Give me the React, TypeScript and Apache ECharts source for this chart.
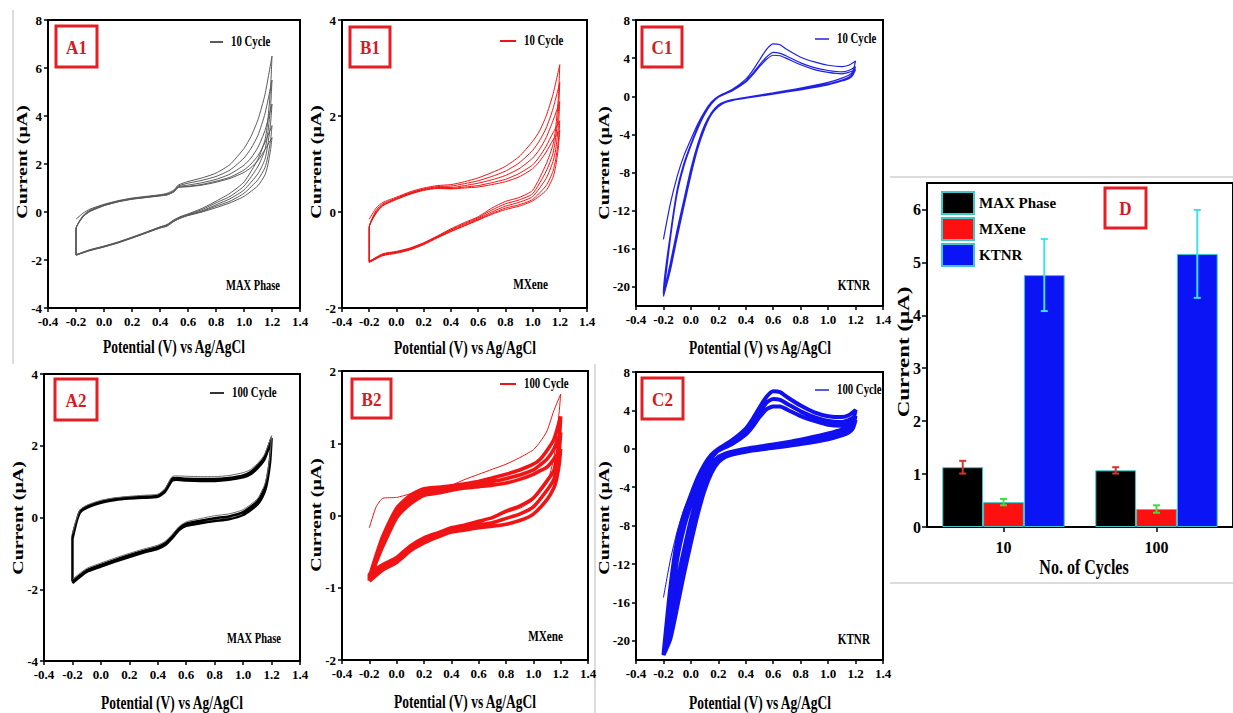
import React, { useEffect, useRef } from "react";
import * as echarts from "echarts";

// ---------------- data ----------------
// MAX Phase (A) potential grids
const A_E_FWD = [-0.2, -0.15, -0.1, 0, 0.1, 0.2, 0.3, 0.4, 0.45, 0.5, 0.53, 0.6, 0.7, 0.8, 0.9, 1.0, 1.05, 1.1, 1.15, 1.2];
const A_E_REV = [1.2, 1.19, 1.17, 1.15, 1.1, 1.0, 0.9, 0.8, 0.7, 0.6, 0.55, 0.5, 0.45, 0.4, 0.3, 0.2, 0.1, 0, -0.1, -0.2];

const A1_FWD = [
  [-0.3, -0.05, 0.12, 0.32, 0.47, 0.58, 0.65, 0.72, 0.78, 0.92, 1.12, 1.27, 1.42, 1.62, 1.98, 2.65, 3.15, 3.85, 4.9, 6.5],
  [-0.7, -0.15, 0.08, 0.3, 0.45, 0.56, 0.63, 0.7, 0.75, 0.88, 1.08, 1.2, 1.32, 1.48, 1.75, 2.25, 2.65, 3.2, 4.1, 5.5],
  [-0.7, -0.18, 0.05, 0.28, 0.44, 0.55, 0.62, 0.69, 0.73, 0.86, 1.05, 1.12, 1.22, 1.36, 1.58, 1.95, 2.25, 2.7, 3.4, 4.5],
  [-0.7, -0.2, 0.03, 0.27, 0.43, 0.54, 0.61, 0.68, 0.72, 0.85, 1.03, 1.07, 1.15, 1.28, 1.45, 1.75, 2.0, 2.35, 2.9, 3.6],
  [-0.7, -0.2, 0.02, 0.26, 0.42, 0.53, 0.6, 0.67, 0.71, 0.84, 1.02, 1.05, 1.12, 1.24, 1.4, 1.65, 1.85, 2.15, 2.6, 3.1],
];
const A1_REV = [
  [6.5, 5.2, 3.8, 3.0, 2.2, 1.25, 0.78, 0.45, 0.15, -0.08, -0.18, -0.32, -0.52, -0.62, -0.84, -1.05, -1.25, -1.42, -1.57, -1.78],
  [5.5, 4.4, 3.3, 2.6, 1.9, 1.08, 0.65, 0.38, 0.1, -0.1, -0.2, -0.34, -0.54, -0.63, -0.85, -1.06, -1.26, -1.43, -1.58, -1.78],
  [4.5, 3.7, 2.8, 2.2, 1.6, 0.92, 0.55, 0.3, 0.05, -0.12, -0.22, -0.36, -0.56, -0.64, -0.86, -1.07, -1.27, -1.44, -1.59, -1.8],
  [3.6, 3.0, 2.3, 1.85, 1.35, 0.78, 0.45, 0.24, 0.02, -0.14, -0.24, -0.38, -0.58, -0.66, -0.87, -1.08, -1.28, -1.45, -1.6, -1.8],
  [3.1, 2.6, 1.95, 1.55, 1.1, 0.65, 0.38, 0.18, 0.0, -0.15, -0.25, -0.39, -0.59, -0.67, -0.88, -1.09, -1.29, -1.46, -1.61, -1.8],
];
const A2_FWD = [
  [-0.45, 0.2, 0.34, 0.48, 0.55, 0.59, 0.62, 0.65, 0.8, 1.14, 1.16, 1.15, 1.14, 1.14, 1.17, 1.25, 1.33, 1.5, 1.75, 2.28],
  [-0.6, 0.15, 0.3, 0.44, 0.52, 0.56, 0.58, 0.61, 0.75, 1.08, 1.1, 1.08, 1.07, 1.07, 1.1, 1.17, 1.26, 1.43, 1.68, 2.22],
  [-0.6, 0.12, 0.27, 0.41, 0.49, 0.53, 0.55, 0.58, 0.71, 1.03, 1.05, 1.03, 1.02, 1.02, 1.05, 1.12, 1.2, 1.37, 1.62, 2.18],
];
const A2_REV = [
  [2.28, 1.75, 1.2, 0.9, 0.52, 0.22, 0.1, 0.05, -0.03, -0.12, -0.25, -0.48, -0.67, -0.77, -0.88, -1.0, -1.13, -1.27, -1.42, -1.72],
  [2.22, 1.65, 1.1, 0.8, 0.45, 0.15, 0.03, -0.02, -0.09, -0.17, -0.3, -0.53, -0.72, -0.82, -0.93, -1.05, -1.18, -1.32, -1.47, -1.78],
  [2.18, 1.55, 1.0, 0.7, 0.36, 0.07, -0.05, -0.1, -0.16, -0.23, -0.35, -0.58, -0.77, -0.87, -0.98, -1.1, -1.23, -1.37, -1.52, -1.83],
];

// MXene (B) potential grids
const B_E_FWD = [-0.2, -0.15, -0.1, 0, 0.1, 0.2, 0.3, 0.4, 0.5, 0.6, 0.7, 0.8, 0.9, 1.0, 1.05, 1.1, 1.15, 1.2];
const B_E_REV = [1.2, 1.19, 1.17, 1.15, 1.1, 1.0, 0.9, 0.8, 0.7, 0.6, 0.5, 0.4, 0.3, 0.2, 0.1, 0, -0.1, -0.2];

const B1_FWD = [
  [-0.15, 0.08, 0.2, 0.31, 0.42, 0.5, 0.55, 0.57, 0.63, 0.71, 0.82, 0.95, 1.15, 1.47, 1.68, 2.0, 2.45, 3.07],
  [-0.32, 0.03, 0.17, 0.29, 0.4, 0.48, 0.53, 0.54, 0.59, 0.65, 0.74, 0.85, 1.02, 1.28, 1.48, 1.75, 2.15, 2.7],
  [-0.32, 0.0, 0.15, 0.28, 0.39, 0.47, 0.51, 0.51, 0.55, 0.6, 0.67, 0.76, 0.9, 1.12, 1.3, 1.55, 1.9, 2.3],
  [-0.32, -0.02, 0.14, 0.27, 0.38, 0.46, 0.5, 0.49, 0.52, 0.55, 0.61, 0.68, 0.8, 0.98, 1.15, 1.37, 1.65, 1.9],
  [-0.32, -0.03, 0.13, 0.26, 0.37, 0.45, 0.49, 0.48, 0.5, 0.52, 0.57, 0.63, 0.73, 0.9, 1.05, 1.25, 1.5, 1.7],
];
const B1_REV = [
  [3.07, 2.4, 1.75, 1.4, 1.0, 0.45, 0.3, 0.22, 0.08, -0.1, -0.22, -0.35, -0.5, -0.64, -0.75, -0.82, -0.87, -1.03],
  [2.7, 2.1, 1.55, 1.22, 0.85, 0.38, 0.25, 0.17, 0.04, -0.12, -0.24, -0.37, -0.51, -0.65, -0.76, -0.83, -0.88, -1.03],
  [2.3, 1.8, 1.3, 1.05, 0.7, 0.32, 0.2, 0.12, 0.0, -0.14, -0.26, -0.38, -0.52, -0.66, -0.77, -0.84, -0.89, -1.04],
  [1.9, 1.5, 1.1, 0.85, 0.55, 0.26, 0.15, 0.08, -0.03, -0.16, -0.28, -0.4, -0.53, -0.67, -0.78, -0.85, -0.9, -1.05],
  [1.7, 1.35, 0.95, 0.72, 0.45, 0.23, 0.12, 0.05, -0.05, -0.17, -0.29, -0.41, -0.54, -0.68, -0.79, -0.86, -0.91, -1.05],
];
const B2_FWD = [
  [-0.17, 0.12, 0.24, 0.25, 0.3, 0.34, 0.38, 0.42, 0.5, 0.57, 0.64, 0.71, 0.8, 0.91, 1.02, 1.17, 1.45, 1.68],
  [-0.85, -0.55, -0.28, 0.1, 0.28, 0.37, 0.39, 0.41, 0.44, 0.47, 0.52, 0.57, 0.63, 0.71, 0.78, 0.9, 1.05, 1.37],
  [-0.88, -0.6, -0.35, 0.03, 0.22, 0.32, 0.35, 0.38, 0.41, 0.43, 0.47, 0.51, 0.56, 0.63, 0.7, 0.78, 0.92, 1.15],
  [-0.9, -0.65, -0.42, -0.03, 0.16, 0.28, 0.31, 0.35, 0.38, 0.4, 0.42, 0.45, 0.5, 0.57, 0.62, 0.67, 0.78, 0.92],
];
const B2_REV = [
  [1.68, 1.45, 1.1, 0.8, 0.45, 0.22, 0.1, 0.04, -0.03, -0.09, -0.14, -0.18, -0.24, -0.32, -0.43, -0.6, -0.7, -0.85],
  [1.37, 1.05, 0.8, 0.62, 0.48, 0.24, 0.13, 0.06, -0.03, -0.08, -0.13, -0.17, -0.24, -0.31, -0.42, -0.58, -0.68, -0.82],
  [1.15, 0.9, 0.65, 0.5, 0.35, 0.12, 0.02, -0.04, -0.1, -0.13, -0.17, -0.2, -0.27, -0.35, -0.46, -0.62, -0.72, -0.87],
  [0.92, 0.72, 0.5, 0.38, 0.22, 0.02, -0.07, -0.12, -0.15, -0.17, -0.2, -0.23, -0.3, -0.38, -0.49, -0.65, -0.75, -0.91],
];

// KTNR (C) potential grids
const C_E_FWD = [-0.2, -0.15, -0.1, -0.05, 0, 0.05, 0.1, 0.15, 0.2, 0.3, 0.4, 0.45, 0.5, 0.55, 0.6, 0.65, 0.7, 0.8, 0.9, 1.0, 1.1, 1.15, 1.2];
const C_E_REV = [1.2, 1.18, 1.15, 1.1, 1.0, 0.8, 0.6, 0.4, 0.3, 0.25, 0.2, 0.15, 0.1, 0.05, 0, -0.05, -0.1, -0.15, -0.2];

const C1_FWD = [
  [-15, -11.3, -8.4, -6.2, -4.5, -2.9, -1.6, -0.6, 0.0, 0.7, 1.8, 2.7, 3.8, 4.9, 5.5, 5.4, 4.9, 4.1, 3.6, 3.25, 3.1, 3.25, 3.7],
  [-20.5, -14.5, -9.8, -7.0, -5.0, -3.2, -1.8, -0.7, -0.05, 0.6, 1.6, 2.4, 3.3, 4.1, 4.6, 4.5, 4.2, 3.5, 3.0, 2.7, 2.55, 2.7, 3.1],
  [-21, -15, -10.2, -7.3, -5.2, -3.4, -1.9, -0.8, -0.1, 0.55, 1.5, 2.25, 3.1, 3.85, 4.3, 4.25, 3.95, 3.3, 2.8, 2.5, 2.35, 2.5, 2.8],
];
const C1_REV = [
  [3.7, 2.6, 2.2, 1.9, 1.45, 0.85, 0.35, -0.1, -0.35, -0.55, -0.9, -1.7, -3.0, -5.0, -7.6, -10.8, -14.0, -17.5, -20.8],
  [3.1, 2.4, 2.0, 1.7, 1.3, 0.75, 0.28, -0.15, -0.4, -0.6, -1.0, -1.8, -3.2, -5.3, -8.0, -11.2, -14.5, -18.0, -21.0],
  [2.8, 2.2, 1.85, 1.6, 1.2, 0.68, 0.22, -0.2, -0.45, -0.65, -1.1, -1.9, -3.4, -5.5, -8.3, -11.5, -14.8, -18.3, -21.0],
];
const C2_FWD = [
  [-15.5, -11.6, -8.6, -6.3, -4.6, -3.0, -1.7, -0.7, -0.1, 0.6, 1.6, 2.5, 3.6, 4.6, 5.2, 5.1, 4.6, 3.8, 3.3, 3.0, 2.9, 3.1, 3.6],
  [-21.5, -14.5, -9.5, -6.8, -4.8, -3.0, -1.6, -0.6, 0.0, 0.9, 2.1, 3.1, 4.3, 5.4, 6.0, 5.9, 5.4, 4.5, 3.8, 3.4, 3.3, 3.5, 4.05],
  [-21.5, -15.5, -10.5, -7.5, -5.3, -3.4, -1.9, -0.8, -0.1, 0.7, 1.8, 2.7, 3.8, 4.8, 5.2, 5.1, 4.7, 3.9, 3.3, 2.9, 2.8, 3.0, 3.4],
  [-21.5, -16.5, -11.5, -8.2, -5.8, -3.8, -2.2, -1.0, -0.2, 0.5, 1.5, 2.3, 3.3, 4.1, 4.4, 4.4, 4.1, 3.4, 2.9, 2.5, 2.4, 2.6, 3.0],
];
const C2_REV = [
  [3.6, 2.6, 2.2, 1.9, 1.45, 0.85, 0.35, -0.1, -0.35, -0.55, -0.9, -1.7, -3.0, -5.0, -7.6, -10.8, -14.0, -17.5, -21.0],
  [4.05, 2.8, 2.4, 2.0, 1.6, 0.95, 0.45, 0.0, -0.3, -0.5, -0.85, -1.6, -2.8, -4.8, -7.4, -10.5, -13.8, -17.5, -21.5],
  [3.4, 2.4, 2.0, 1.7, 1.25, 0.7, 0.25, -0.2, -0.45, -0.7, -1.1, -2.0, -3.5, -5.8, -8.6, -11.8, -15.2, -18.8, -21.5],
  [3.0, 2.1, 1.7, 1.4, 1.0, 0.5, 0.1, -0.3, -0.6, -0.85, -1.4, -2.5, -4.3, -6.8, -9.8, -13.0, -16.5, -19.8, -21.5],
];
const C_Y_TICKS = [-20, -16, -12, -8, -4, 0, 4, 8];

// Panel D (bars)
const CYCLE_CATEGORIES = ["10", "100"];
const MAX_PHASE = [1.13, 1.07];
const MAX_PHASE_ERR = [0.12, 0.06];
const MXENE = [0.47, 0.34];
const MXENE_ERR = [0.06, 0.07];
const KTNR = [4.76, 5.16];
const KTNR_ERR = [0.68, 0.83];
const D_Y_TICKS = [0, 1, 2, 3, 4, 5, 6];

// ---------------- helpers ----------------
const FONT = "'Liberation Serif', 'Times New Roman', serif";

function loops(eF: number[], eR: number[], fwd: number[][], rev: number[][], from: number, to: number) {
  const out: number[][] = [];
  for (let i = from; i < to; i++) {
    eF.forEach((e, j) => out.push([e, fwd[i][j]]));
    eR.forEach((e, j) => out.push([e, rev[i][j]]));
  }
  return out;
}

const fmtX = (v: number) => (Math.abs(v) < 1e-9 ? "0.0" : v.toFixed(1));

const axisLineStyle = { show: true, onZero: false, lineStyle: { color: "#000", width: 2 } };
const labelBase = { color: "#000", fontFamily: FONT, fontWeight: "bold" as const, fontSize: 13 };

function cvX(gi: number) {
  return {
    type: "value",
    gridIndex: gi,
    min: -0.4,
    max: 1.4,
    interval: 0.2,
    axisLine: axisLineStyle,
    axisTick: { show: true, length: 4, lineStyle: { color: "#000", width: 1.5 } },
    axisLabel: { ...labelBase, margin: 7, formatter: fmtX },
    splitLine: { show: false },
  };
}

function cvY(gi: number, min: number, max: number, interval: number | null, ticks?: number[]) {
  const ax: any = {
    type: "value",
    gridIndex: gi,
    min,
    max,
    axisLine: axisLineStyle,
    axisTick: { show: true, length: 4, lineStyle: { color: "#000", width: 1.5 } },
    axisLabel: { ...labelBase, margin: 6 },
    splitLine: { show: false },
  };
  if (interval != null) ax.interval = interval;
  if (ticks) {
    ax.axisLabel.customValues = ticks;
    ax.axisTick.customValues = ticks;
  }
  return ax;
}

function cvSeries(gi: number, data: number[][], color: string, width: number, z = 2) {
  return {
    type: "line",
    xAxisIndex: gi,
    yAxisIndex: gi,
    data,
    showSymbol: false,
    symbol: "none",
    smooth: 0.2,
    silent: true,
    z,
    lineStyle: { color, width },
  };
}

function txt(text: string, x: number, y: number, o: any = {}) {
  return {
    type: "text",
    x,
    y,
    rotation: o.rot || 0,
    scaleX: o.sx || 1,
    scaleY: o.sy || 1,
    silent: true,
    z: 100,
    style: {
      text,
      fill: o.color || "#000",
      fontSize: o.size || 12,
      fontWeight: "bold",
      fontFamily: FONT,
      align: o.align || "center",
      verticalAlign: "middle",
    },
  };
}

function tagBox(label: string, x: number, y: number, w: number, h: number) {
  return [
    {
      type: "rect",
      shape: { x, y, width: w, height: h },
      style: { fill: "none", stroke: "#e31e24", lineWidth: 3 },
      silent: true,
      z: 100,
    },
    txt(label, x + w / 2, y + h / 2 + 1, { size: 19, color: "#d71920", sx: 0.9 }),
  ];
}

function legendLine(x1: number, x2: number, y: number, color: string, label: string) {
  return [
    { type: "line", shape: { x1, y1: y, x2, y2: y }, style: { stroke: color, lineWidth: 2 }, silent: true, z: 100 },
    txt(label, x2 + 8, y, { size: 14, sx: 0.77, align: "left" }),
  ];
}

function errSeries(k: number, name: string, vals: number[], errs: number[], color: string) {
  return {
    type: "custom",
    name: name + " err",
    xAxisIndex: 6,
    yAxisIndex: 6,
    silent: true,
    z: 5,
    data: vals.map((v, i) => [i, v, errs[i]]),
    encode: { x: 0, y: 1 },
    renderItem: (params: any, api: any) => {
      const idx = api.value(0);
      const v = api.value(1);
      const e = api.value(2);
      const band = api.size([1, 0])[0];
      const w = (band * 0.8) / 3;
      const cx = api.coord([idx, v])[0] + (k - 1) * w;
      const yt = api.coord([idx, v + e])[1];
      const yb = api.coord([idx, v - e])[1];
      const st = { stroke: color, lineWidth: 2 };
      return {
        type: "group",
        children: [
          { type: "line", shape: { x1: cx, y1: yt, x2: cx, y2: yb }, style: st },
          { type: "line", shape: { x1: cx - 3.5, y1: yt, x2: cx + 3.5, y2: yt }, style: st },
          { type: "line", shape: { x1: cx - 3.5, y1: yb, x2: cx + 3.5, y2: yb }, style: st },
        ],
      };
    },
  };
}

function buildOption() {
  const gridBase = { show: true, borderColor: "#000", borderWidth: 2, backgroundColor: "transparent" };
  const grids = [
    { ...gridBase, left: 48, top: 20, width: 252, height: 288 }, // A1
    { ...gridBase, left: 342, top: 20, width: 245, height: 288 }, // B1
    { ...gridBase, left: 636, top: 20, width: 247, height: 286 }, // C1
    { ...gridBase, left: 44, top: 374, width: 256, height: 287 }, // A2
    { ...gridBase, left: 342, top: 371, width: 246, height: 289 }, // B2
    { ...gridBase, left: 636, top: 372, width: 247, height: 288 }, // C2
    { ...gridBase, left: 927, top: 183, width: 314, height: 344 }, // D
  ];

  const xAxes: any[] = [0, 1, 2, 3, 4, 5].map(cvX);
  xAxes.push({
    type: "category",
    gridIndex: 6,
    data: CYCLE_CATEGORIES,
    axisLine: axisLineStyle,
    axisTick: { show: true, alignWithLabel: true, length: 5, lineStyle: { color: "#000", width: 1.5 } },
    axisLabel: { ...labelBase, fontSize: 16, margin: 12 },
    splitLine: { show: false },
  });

  const yAxes: any[] = [
    cvY(0, -4, 8, 2),
    cvY(1, -2, 4, 2),
    cvY(2, -22, 8, null, C_Y_TICKS),
    cvY(3, -4, 4, 2),
    cvY(4, -2, 2, 1),
    cvY(5, -22, 8, null, C_Y_TICKS),
  ];
  const dy = cvY(6, 0, 6.5, null, D_Y_TICKS);
  dy.axisLabel.fontSize = 16;
  dy.axisTick.length = 5;
  yAxes.push(dy);

  const red = "#f01414";
  const blue = "#2020e6";

  const series: any[] = [
    cvSeries(0, loops(A_E_FWD, A_E_REV, A1_FWD, A1_REV, 0, A1_FWD.length), "#5a5a5a", 1),
    cvSeries(1, loops(B_E_FWD, B_E_REV, B1_FWD, B1_REV, 0, B1_FWD.length), red, 1),
    cvSeries(2, loops(C_E_FWD, C_E_REV, C1_FWD, C1_REV, 0, C1_FWD.length), blue, 1.2),
    cvSeries(3, loops(A_E_FWD, A_E_REV, A2_FWD, A2_REV, 0, 1), "#6a6a6a", 1, 3),
    cvSeries(3, loops(A_E_FWD, A_E_REV, A2_FWD, A2_REV, 1, A2_FWD.length), "#000", 2.5),
    cvSeries(4, loops(B_E_FWD, B_E_REV, B2_FWD, B2_REV, 0, 1), red, 1, 3),
    cvSeries(4, loops(B_E_FWD, B_E_REV, B2_FWD, B2_REV, 1, B2_FWD.length), red, 3.6),
    cvSeries(5, loops(C_E_FWD, C_E_REV, C2_FWD, C2_REV, 0, 1), "#1010f0", 1, 3),
    cvSeries(5, loops(C_E_FWD, C_E_REV, C2_FWD, C2_REV, 1, C2_FWD.length), "#1010f0", 4),
  ];

  const barBase = {
    type: "bar",
    xAxisIndex: 6,
    yAxisIndex: 6,
    barGap: "0%",
    barCategoryGap: "20%",
    silent: true,
  };
  series.push(
    { ...barBase, name: "MAX Phase", data: MAX_PHASE, itemStyle: { color: "#000", borderColor: "#3cc8c8", borderWidth: 1 } },
    { ...barBase, name: "MXene", data: MXENE, itemStyle: { color: "#ff1010", borderColor: "#3cc8c8", borderWidth: 1 } },
    { ...barBase, name: "KTNR", data: KTNR, itemStyle: { color: "#0a14f5", borderColor: "#3cc8c8", borderWidth: 1 } },
    errSeries(0, "MAX Phase", MAX_PHASE, MAX_PHASE_ERR, "#e0302a"),
    errSeries(1, "MXene", MXENE, MXENE_ERR, "#3ee03e"),
    errSeries(2, "KTNR", KTNR, KTNR_ERR, "#40e0f0")
  );

  const gray = "#d0d0d0";
  const elements: any[] = [
    // collage frame lines
    { type: "line", shape: { x1: 13, y1: 10, x2: 13, y2: 364 }, style: { stroke: gray, lineWidth: 1.5 }, silent: true },
    { type: "line", shape: { x1: 595, y1: 364, x2: 595, y2: 713 }, style: { stroke: gray, lineWidth: 1.5 }, silent: true },
    { type: "line", shape: { x1: 890, y1: 177, x2: 1233, y2: 177 }, style: { stroke: gray, lineWidth: 1.5 }, silent: true },
    { type: "line", shape: { x1: 890, y1: 583, x2: 1233, y2: 583 }, style: { stroke: gray, lineWidth: 1.5 }, silent: true },
    // panel tags
    ...tagBox("A1", 56, 26, 41, 41),
    ...tagBox("B1", 350, 27, 40, 40),
    ...tagBox("C1", 642, 27, 40, 40),
    ...tagBox("A2", 55, 379, 42, 41),
    ...tagBox("B2", 352, 379, 39, 39),
    ...tagBox("C2", 642, 378, 41, 41),
    ...tagBox("D", 1105, 188, 41, 40),
    // inline legends
    ...legendLine(210, 223, 42, "#5a5a5a", "10 Cycle"),
    ...legendLine(500, 516, 41, red, "10 Cycle"),
    ...legendLine(815, 829, 39, "#5a5ae6", "10 Cycle"),
    ...legendLine(210, 224, 393, "#333", "100 Cycle"),
    ...legendLine(500, 516, 384, red, "100 Cycle"),
    ...legendLine(815, 829, 390, "#5a5ae6", "100 Cycle"),
    // material labels
    txt("MAX Phase", 280, 285, { size: 14, sx: 0.75, align: "right" }),
    txt("MXene", 548, 285, { size: 14, sx: 0.8, align: "right" }),
    txt("KTNR", 870, 286, { size: 14, sx: 0.8, align: "right" }),
    txt("MAX Phase", 281, 638, { size: 14, sx: 0.75, align: "right" }),
    txt("MXene", 563, 637, { size: 14, sx: 0.8, align: "right" }),
    txt("KTNR", 870, 640, { size: 14, sx: 0.8, align: "right" }),
    // x axis titles
    txt("Potential (V) vs Ag/AgCl", 174, 347, { size: 18, sx: 0.75 }),
    txt("Potential (V) vs Ag/AgCl", 465, 348, { size: 18, sx: 0.75 }),
    txt("Potential (V) vs Ag/AgCl", 760, 348, { size: 18, sx: 0.75 }),
    txt("Potential (V) vs Ag/AgCl", 172, 703, { size: 18, sx: 0.75 }),
    txt("Potential (V) vs Ag/AgCl", 465, 702, { size: 18, sx: 0.75 }),
    txt("Potential (V) vs Ag/AgCl", 760, 703, { size: 18, sx: 0.75 }),
    txt("No. of Cycles", 1084, 567, { size: 20, sx: 0.8 }),
    // y axis titles
    txt("Current (μA)", 22, 162, { size: 20, rot: Math.PI / 2, sy: 0.72 }),
    txt("Current (μA)", 316, 162, { size: 20, rot: Math.PI / 2, sy: 0.72 }),
    txt("Current (μA)", 604, 163, { size: 20, rot: Math.PI / 2, sy: 0.72 }),
    txt("Current (μA)", 18, 518, { size: 20, rot: Math.PI / 2, sy: 0.72 }),
    txt("Current (μA)", 316, 515, { size: 20, rot: Math.PI / 2, sy: 0.72 }),
    txt("Current (μA)", 604, 518, { size: 20, rot: Math.PI / 2, sy: 0.72 }),
    txt("Current (μA)", 903, 352, { size: 23, rot: Math.PI / 2, sy: 0.72 }),
  ];

  return {
    animation: false,
    backgroundColor: "#fff",
    grid: grids,
    xAxis: xAxes,
    yAxis: yAxes,
    legend: {
      show: true,
      data: ["MAX Phase", "MXene", "KTNR"],
      orient: "vertical",
      left: 941,
      top: 191,
      padding: 0,
      itemWidth: 32,
      itemHeight: 22,
      itemGap: 2,
      icon: "rect",
      selectedMode: false,
      textStyle: { color: "#000", fontFamily: FONT, fontWeight: "bold", fontSize: 15 },
    },
    series,
    graphic: elements,
  };
}

export default function App() {
  const ref = useRef<HTMLDivElement>(null);
  useEffect(() => {
    if (!ref.current) return;
    const chart = echarts.init(ref.current, undefined, { renderer: "svg" });
    chart.setOption(buildOption() as any);
    return () => chart.dispose();
  }, []);
  return (
    <div
      ref={ref}
      style={{ position: "absolute", left: 0, top: 0, width: 1233, height: 713, background: "#fff" }}
    />
  );
}
